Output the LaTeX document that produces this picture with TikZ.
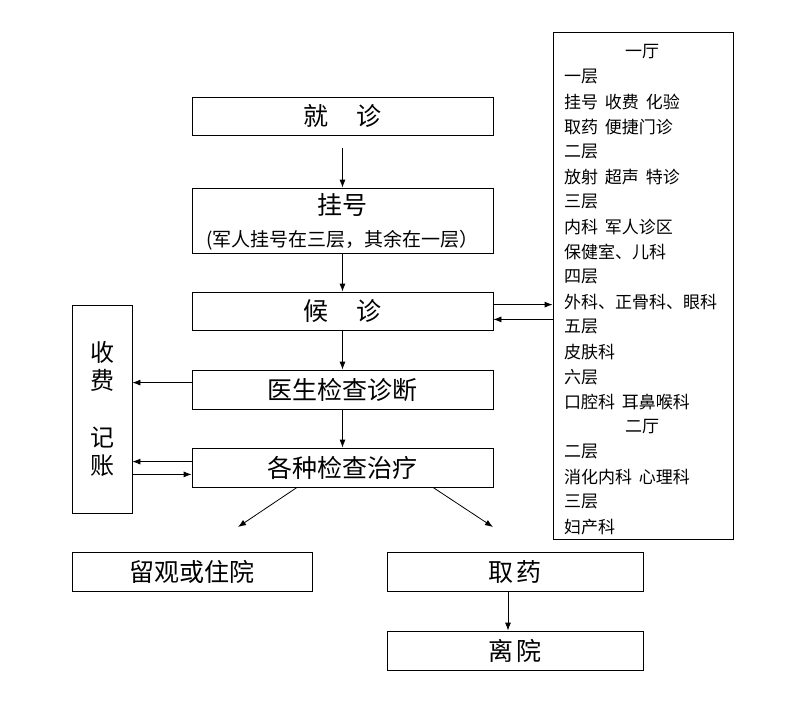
\documentclass[tikz,border=0pt]{standalone}
\usepackage{fontspec}
\setmainfont{Noto Sans CJK SC}
\usetikzlibrary{arrows.meta}
\newcommand{\gp}{\hspace{0.4em}}

\begin{document}
\begin{tikzpicture}[x={(1pt, 0pt)}, y={(0pt, -1pt)},
    box/.style={draw, line width=0.8pt, minimum width=301pt, inner sep=0pt,
      font=\fontsize{25pt}{28pt}\selectfont},
    arr/.style={line width=0.8pt, -{Latex[length=8pt, width=6pt]}},
    floor/.style={anchor=west, inner sep=0pt, font=\fontsize{17pt}{20pt}\selectfont}]
  \useasboundingbox (0, 0) rectangle (810, 702);

  % main column
  \node[box, minimum height=38pt] (see) at (342.5, 116) {就\hspace{28pt}诊};
  \node[box, minimum height=65pt] (reg) at (342.5, 220.5) {};
  \node[font=\fontsize{25pt}{28pt}\selectfont, inner sep=0pt] (regt) at (342.5, 205) {挂号};
  \node[font=\fontsize{19pt}{22pt}\selectfont, inner sep=0pt] (regn) at (342.5, 240) {(军人挂号在三层，其余在一层）};
  \node[box, minimum height=38pt] (wait) at (342.5, 311) {候\hspace{28pt}诊};
  \node[box, minimum height=39pt] (doc) at (342.5, 389.5) {医生检查诊断};
  \node[box, minimum height=39pt] (treat) at (342.5, 467.5) {各种检查治疗};

  % side boxes
  \node[box, minimum width=60pt, minimum height=208pt, align=center,
        font=\fontsize{24pt}{28pt}\selectfont] (fee) at (102, 409) {收\\费\\[29pt]记\\账};
  \node[draw, line width=0.8pt, minimum width=180pt, minimum height=507pt] (hall) at (643, 285.5) {};

  % bottom row
  \node[box, minimum width=240pt, minimum height=39pt] (stay) at (192, 571.5) {留观或住院};
  \node[box, minimum width=256pt, minimum height=39pt] (drug) at (515, 571.5) {取\hspace{3pt}药};
  \node[box, minimum width=256pt, minimum height=39pt] (leave) at (515, 650.5) {离\hspace{3pt}院};

  % floors
  \node[floor, anchor=center] (h1) at (642, 52) {一厅};
  \node[floor, anchor=center] (h2) at (642, 427) {二厅};
  \foreach \r/\t in {1/一层, 2/挂号\gp 收费\gp 化验, 3/取药\gp 便捷门诊,
                     4/二层, 5/放射\gp 超声\gp 特诊, 6/三层, 7/内科\gp 军人诊区,
                     8/保健室、儿科, 9/四层, 10/外科、正骨科、眼科, 11/五层,
                     12/皮肤科, 13/六层, 14/口腔科\gp 耳鼻喉科,
                     16/二层, 17/消化内科\gp 心理科, 18/三层, 19/妇产科} {
    \node[floor] (f\r) at (564, 52 + 25 * \r) {\t};
  }

  % connectors
  \draw[arr] ([yshift=-13pt]see.south) -- (reg.north);
  \draw[arr] (reg) -- (wait);
  \draw[arr] (wait) -- (doc);
  \draw[arr] (doc) -- (treat);

  \coordinate (w1) at ([yshift=-13pt]wait.north east);
  \coordinate (w2) at ([yshift=11pt]wait.south east);
  \draw[arr] (w1) -- (w1 -| hall.west);
  \draw[arr] (w2 -| hall.west) -- (w2);

  \coordinate (d1) at ([yshift=-13pt]doc.north west);
  \draw[arr] (d1) -- (d1 -| fee.east);
  \coordinate (t1) at ([yshift=-14pt]treat.north west);
  \coordinate (t2) at ([yshift=13pt]treat.south west);
  \draw[arr] (t1) -- (t1 -| fee.east);
  \draw[arr] (t2 -| fee.east) -- (t2);

  \coordinate (stayend) at (238, 527);
  \coordinate (drugend) at (493, 527);
  \draw[arr] ([xshift=-45.5pt]treat.south) -- (stayend);
  \draw[arr] ([xshift=90.5pt]treat.south) -- (drugend);

  \draw[arr] ([xshift=-7pt]drug.south) -- ([xshift=-7pt]leave.north);
\end{tikzpicture}
\end{document}
